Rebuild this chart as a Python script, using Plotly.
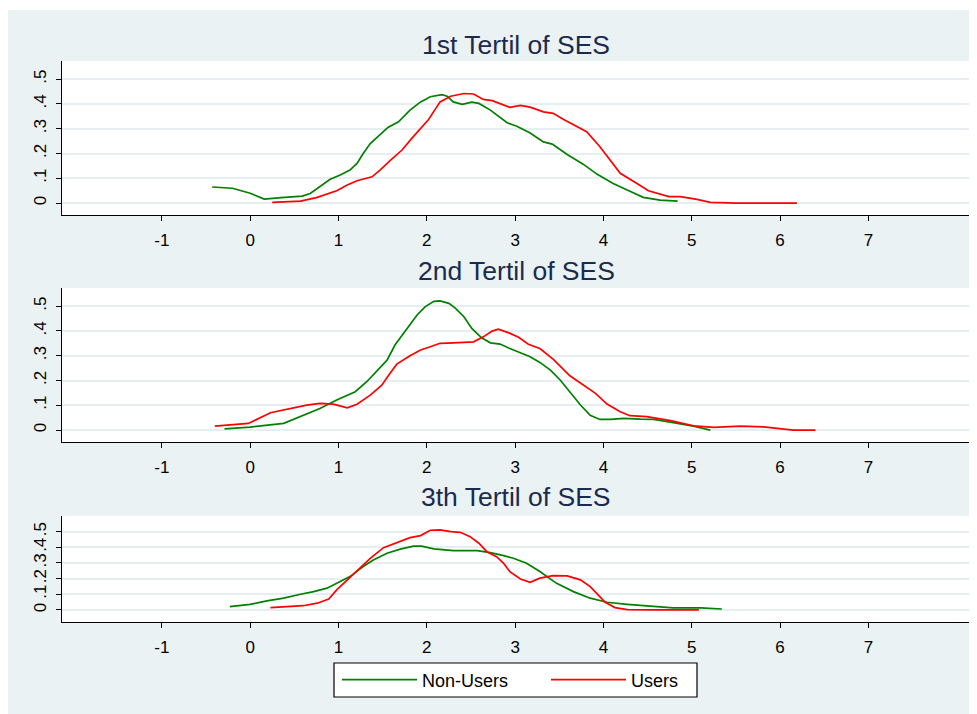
import plotly.graph_objects as go

# ---------------- data ----------------
x_ticks = [-1, 0, 1, 2, 3, 4, 5, 6, 7]
x_ticktext = ["-1", "0", "1", "2", "3", "4", "5", "6", "7"]
y_ticks = [0, 0.1, 0.2, 0.3, 0.4, 0.5]
y_ticktext = ["0", ".1", ".2", ".3", ".4", ".5"]
panel_titles = ["1st Tertil of SES", "2nd Tertil of SES", "3th Tertil of SES"]
series_names = ["Non-Users", "Users"]

t1_nonusers_x = [-0.43, -0.2, 0.0, 0.16, 0.35, 0.59, 0.68, 0.906, 1.02, 1.13, 1.21, 1.28, 1.36, 1.47, 1.56,
                 1.68, 1.81, 1.93, 2.04, 2.17, 2.23, 2.30, 2.40, 2.51, 2.59, 2.72, 2.91, 3.02, 3.17, 3.32,
                 3.42, 3.59, 3.77, 3.93, 4.11, 4.30, 4.45, 4.64, 4.84]
t1_nonusers_y = [0.065, 0.06, 0.04, 0.016, 0.022, 0.028, 0.039, 0.096, 0.113, 0.133, 0.16, 0.2, 0.24, 0.278,
                 0.305, 0.328, 0.375, 0.408, 0.429, 0.437, 0.431, 0.408, 0.398, 0.407, 0.402, 0.375, 0.324,
                 0.31, 0.283, 0.247, 0.238, 0.196, 0.157, 0.116, 0.079, 0.048, 0.023, 0.012, 0.008]
t1_users_x = [0.25, 0.57, 0.75, 0.906, 0.98, 1.10, 1.21, 1.38, 1.47, 1.59, 1.72, 1.83, 1.93, 2.02, 2.10,
              2.15, 2.27, 2.42, 2.53, 2.64, 2.74, 2.83, 2.94, 3.06, 3.17, 3.32, 3.43, 3.55, 3.70, 3.81,
              3.96, 4.08, 4.19, 4.38, 4.51, 4.74, 4.87, 5.06, 5.21, 5.51, 6.19]
t1_users_y = [0.003, 0.008, 0.022, 0.042, 0.05, 0.073, 0.09, 0.106, 0.133, 0.173, 0.214, 0.261, 0.301,
              0.337, 0.381, 0.408, 0.431, 0.442, 0.44, 0.418, 0.413, 0.401, 0.386, 0.394, 0.387, 0.368,
              0.362, 0.337, 0.308, 0.288, 0.227, 0.173, 0.12, 0.079, 0.05, 0.026, 0.026, 0.015, 0.003,
              0.0, 0.0]

t2_nonusers_x = [-0.29, 0.0, 0.38, 0.57, 0.79, 0.98, 1.19, 1.32, 1.43, 1.55, 1.64, 1.72, 1.81, 1.89, 1.98,
                 2.08, 2.15, 2.25, 2.32, 2.42, 2.51, 2.62, 2.72, 2.83, 2.94, 3.04, 3.17, 3.28, 3.40, 3.51,
                 3.62, 3.74, 3.85, 3.96, 4.08, 4.23, 4.42, 4.57, 4.79, 5.02, 5.21]
t2_nonusers_y = [0.005, 0.012, 0.027, 0.054, 0.087, 0.121, 0.155, 0.195, 0.235, 0.282, 0.343, 0.383,
                 0.426, 0.464, 0.497, 0.519, 0.521, 0.511, 0.493, 0.457, 0.41, 0.372, 0.352, 0.347, 0.329,
                 0.316, 0.296, 0.273, 0.242, 0.202, 0.155, 0.101, 0.06, 0.043, 0.043, 0.047, 0.044, 0.043,
                 0.03, 0.016, 0.0]
t2_users_x = [-0.40, -0.02, 0.23, 0.45, 0.64, 0.79, 0.94, 1.10, 1.21, 1.36, 1.49, 1.57, 1.66, 1.81, 1.93,
              2.04, 2.15, 2.30, 2.53, 2.64, 2.74, 2.81, 2.93, 3.04, 3.15, 3.28, 3.43, 3.62, 3.77, 3.91,
              4.04, 4.19, 4.30, 4.49, 4.76, 5.02, 5.25, 5.55, 5.81, 6.15, 6.40]
t2_users_y = [0.016, 0.027, 0.07, 0.087, 0.101, 0.108, 0.105, 0.09, 0.104, 0.141, 0.181, 0.222, 0.266,
              0.3, 0.323, 0.336, 0.35, 0.352, 0.356, 0.376, 0.399, 0.407, 0.392, 0.374, 0.346, 0.329,
              0.286, 0.219, 0.181, 0.148, 0.105, 0.074, 0.058, 0.054, 0.038, 0.017, 0.011, 0.016, 0.013,
              0.0, 0.0]

t3_nonusers_x = [-0.23, 0.0, 0.19, 0.38, 0.57, 0.72, 0.87, 1.02, 1.13, 1.28, 1.40, 1.55, 1.70, 1.85, 1.94,
                 2.08, 2.30, 2.57, 2.72, 2.87, 2.98, 3.13, 3.28, 3.47, 3.66, 3.85, 4.04, 4.27, 4.53, 4.79,
                 5.10, 5.34]
t3_nonusers_y = [0.021, 0.036, 0.058, 0.075, 0.1, 0.117, 0.139, 0.181, 0.213, 0.277, 0.32, 0.362, 0.388,
                 0.407, 0.407, 0.39, 0.379, 0.379, 0.366, 0.347, 0.33, 0.298, 0.245, 0.17, 0.117, 0.075,
                 0.049, 0.036, 0.024, 0.013, 0.013, 0.006]
t3_users_x = [0.23, 0.42, 0.60, 0.76, 0.89, 0.98, 1.10, 1.21, 1.36, 1.51, 1.66, 1.81, 1.93, 2.04, 2.15,
              2.27, 2.38, 2.49, 2.59, 2.68, 2.79, 2.87, 2.94, 3.06, 3.17, 3.28, 3.43, 3.59, 3.74, 3.85,
              3.94, 4.02, 4.13, 4.27, 4.53, 5.08]
t3_users_y = [0.015, 0.021, 0.027, 0.043, 0.07, 0.128, 0.192, 0.249, 0.33, 0.398, 0.43, 0.462, 0.475,
              0.509, 0.511, 0.5, 0.496, 0.468, 0.426, 0.372, 0.34, 0.298, 0.245, 0.198, 0.177, 0.203,
              0.219, 0.217, 0.192, 0.149, 0.096, 0.049, 0.015, 0.002, 0.0, 0.0]

# ---------------- figure ----------------
GREEN = "#008000"
RED = "#ff0000"
FONT = "Liberation Sans, Arial, sans-serif"
BG = "#eaf2f3"
GRID = "#e6eef2"

# the page body has an 8px margin, so the figure starts at page pixel (8, 8)
OFF = 8
W, H = 977 - OFF, 714 - OFF
PLOT_L, PLOT_R, PLOT_T, PLOT_B = 62, 970, 61, 622   # page pixels of the full plotting block
ML, MR, MT, MB = PLOT_L - OFF, 977 - PLOT_R, PLOT_T - OFF, 714 - PLOT_B
PW, PH = W - ML - MR, H - MT - MB


def py2paper(py):
    return 1 - (py - PLOT_T) / PH


def px2paper(px):
    return (px - PLOT_L) / PW


domains = [
    [py2paper(215), py2paper(61)],
    [py2paper(442), py2paper(288)],
    [py2paper(622), py2paper(516)],
]
y_ranges = [[-0.048, 0.573], [-0.048, 0.573], [-0.077, 0.60]]
title_y = [45, 271, 497]

panels = [
    (t1_nonusers_x, t1_nonusers_y, t1_users_x, t1_users_y),
    (t2_nonusers_x, t2_nonusers_y, t2_users_x, t2_users_y),
    (t3_nonusers_x, t3_nonusers_y, t3_users_x, t3_users_y),
]

fig = go.Figure()
for i, (nx, ny, ux, uy) in enumerate(panels):
    sfx = "" if i == 0 else str(i + 1)
    fig.add_trace(go.Scatter(x=nx, y=ny, mode="lines", name=series_names[0],
                             line=dict(color=GREEN, width=1.7), legendgroup="n",
                             showlegend=(i == 0), xaxis="x" + sfx, yaxis="y" + sfx))
    fig.add_trace(go.Scatter(x=ux, y=uy, mode="lines", name=series_names[1],
                             line=dict(color=RED, width=1.7), legendgroup="u",
                             showlegend=(i == 0), xaxis="x" + sfx, yaxis="y" + sfx))

layout = dict(
    width=W, height=H,
    margin=dict(l=ML, r=MR, t=MT, b=MB, autoexpand=False),
    paper_bgcolor=BG,
    plot_bgcolor="white",
    font=dict(family=FONT, color="black", size=17),
    showlegend=True,
    legend=dict(orientation="h", x=px2paper(337), xanchor="left",
                y=py2paper(680), yanchor="middle",
                bgcolor="rgba(0,0,0,0)", borderwidth=0,
                font=dict(size=18, family=FONT, color="black"),
                itemwidth=75, entrywidth=119, traceorder="normal"),
)
for i in range(3):
    sfx = "" if i == 0 else str(i + 1)
    layout["xaxis" + sfx] = dict(
        domain=[0, 1], anchor="y" + sfx, range=[-2.13, 8.15], automargin=False,
        tickvals=x_ticks, ticktext=x_ticktext, ticks="outside", ticklen=5, tickwidth=1.2,
        tickcolor="black", showline=True, linecolor="black", linewidth=1.3, showgrid=False,
        zeroline=False, ticklabelstandoff=4, tickfont=dict(size=17, family=FONT, color="black"),
    )
    layout["yaxis" + sfx] = dict(
        domain=domains[i], anchor="x" + sfx, range=y_ranges[i], automargin=False,
        tickvals=y_ticks, ticktext=y_ticktext, tickangle=-90,
        ticks="outside", ticklen=5, tickwidth=1.2, tickcolor="black",
        showline=True, linecolor="black", linewidth=1.3,
        showgrid=True, gridcolor=GRID, gridwidth=1.5, zeroline=False,
        ticklabelstandoff=3, tickfont=dict(size=17, family=FONT, color="black"),
    )
fig.update_layout(**layout)

for i, t in enumerate(panel_titles):
    fig.add_annotation(text=t, xref="paper", yref="paper", x=0.5, y=py2paper(title_y[i]),
                       xanchor="center", yanchor="middle", showarrow=False,
                       font=dict(size=26.5, family=FONT, color="#1c2a4e"))

# legend frame (white box with black border)
fig.add_shape(type="rect", xref="paper", yref="paper", x0=px2paper(334), x1=px2paper(697),
              y0=py2paper(697), y1=py2paper(663), fillcolor="white",
              line=dict(color="black", width=1.2), layer="above")

# thin white strip at the very top of the figure (page rows 8-10)
fig.add_shape(type="rect", xref="paper", yref="paper", x0=px2paper(OFF - 2), x1=px2paper(979),
              y0=py2paper(10), y1=py2paper(OFF - 2), fillcolor="white", line_width=0, layer="above")

fig.write_html("out.html")
